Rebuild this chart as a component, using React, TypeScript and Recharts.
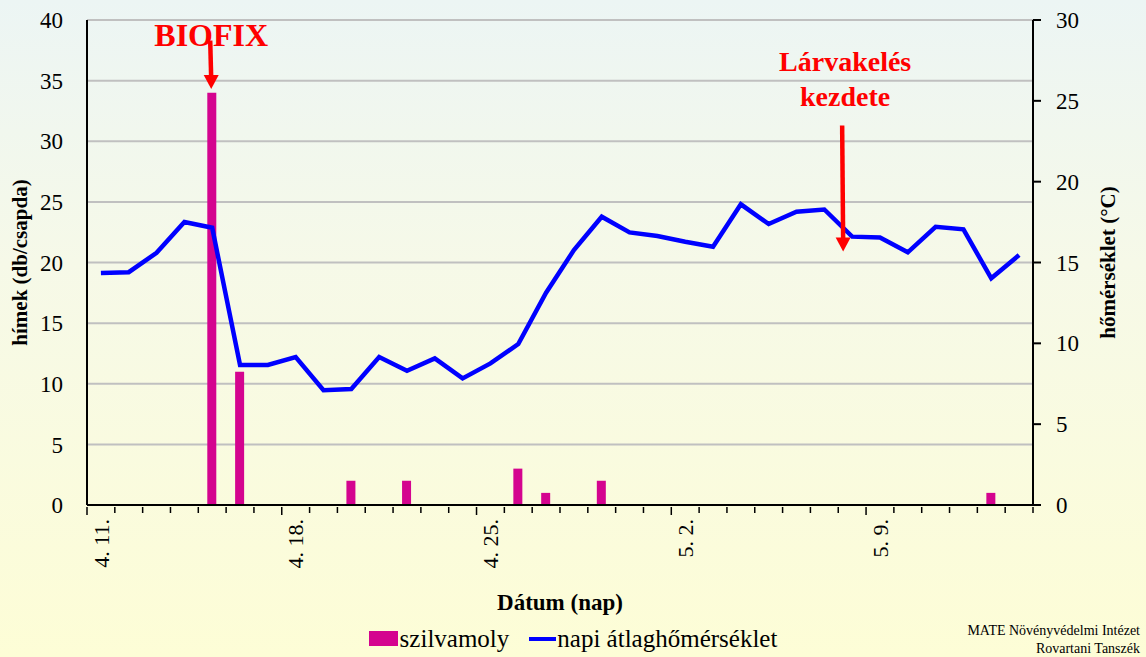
import {
  ComposedChart,
  Bar,
  Line,
  XAxis,
  YAxis,
  CartesianGrid,
  Legend,
  ReferenceLine,
} from 'recharts'

const dates = [
  '4. 11.', '4. 12.', '4. 13.', '4. 14.', '4. 15.', '4. 16.', '4. 17.', '4. 18.', '4. 19.', '4. 20.',
  '4. 21.', '4. 22.', '4. 23.', '4. 24.', '4. 25.', '4. 26.', '4. 27.', '4. 28.', '4. 29.', '4. 30.',
  '5. 1.', '5. 2.', '5. 3.', '5. 4.', '5. 5.', '5. 6.', '5. 7.', '5. 8.', '5. 9.', '5. 10.',
  '5. 11.', '5. 12.', '5. 13.', '5. 14.',
]

const szilvamoly = [
  0, 0, 0, 0, 34, 11, 0, 0, 0, 2,
  0, 2, 0, 0, 0, 3, 1, 0, 2, 0,
  0, 0, 0, 0, 0, 0, 0, 0, 0, 0,
  0, 0, 1, 0,
]

const homerseklet = [
  14.35, 14.4, 15.6, 17.5, 17.15, 8.66, 8.66, 9.15, 7.1, 7.17,
  9.15, 8.3, 9.07, 7.83, 8.76, 9.96, 13.13, 15.77, 17.83, 16.86,
  16.64, 16.28, 15.97, 18.6, 17.38, 18.14, 18.28, 16.6, 16.55, 15.63,
  17.21, 17.05, 14.02, 15.46,
]

const leftTicks = [0, 5, 10, 15, 20, 25, 30, 35, 40]
const rightTicks = [0, 5, 10, 15, 20, 25, 30]

const data = dates.map((d, i) => ({
  datum: d,
  szilvamoly: szilvamoly[i],
  homerseklet: homerseklet[i],
}))

const SERIF = "'Times New Roman', 'Liberation Serif', 'Noto Serif', 'DejaVu Serif', Times, serif"
const PLOT_LEFT = 87
const PLOT_RIGHT = 1033
const BAND = (PLOT_RIGHT - PLOT_LEFT) / dates.length

function DateTick(props: any) {
  const { x, y, payload, index } = props
  const left = x - BAND / 2
  const major = index % 7 === 0
  const last = index === dates.length - 1
  return (
    <g>
      <line x1={left} x2={left} y1={y} y2={y + (major ? 8 : 6)} stroke="#000" strokeWidth={1.5} />
      {last && <line x1={x + BAND / 2} x2={x + BAND / 2} y1={y} y2={y + 6} stroke="#000" strokeWidth={1.5} />}
      {major && (
        <text
          x={x}
          y={y + 12}
          transform={`rotate(-90, ${x}, ${y + 12})`}
          textAnchor="end"
          dy="0.35em"
          fontSize={22}
          style={{ fontFamily: SERIF }}
          fill="#000"
        >
          {payload.value}
        </text>
      )}
    </g>
  )
}

function AxisTitle({ viewBox, value, dx }: any) {
  const cx = viewBox.x + dx
  const cy = viewBox.y + viewBox.height / 2
  return (
    <text
      x={cx}
      y={cy}
      transform={`rotate(-90, ${cx}, ${cy})`}
      textAnchor="middle"
      dominantBaseline="central"
      fontSize={21}
      fontWeight="bold"
      style={{ fontFamily: SERIF }}
      fill="#000"
    >
      {value}
    </text>
  )
}

function Arrow({ x1, y1, x2, y2, dx = 0, lines, gap }: any) {
  const ax1 = x1 + dx
  const ax2 = x2 + dx
  return (
    <g>
      {lines.map((t: any, i: number) => (
        <text
          key={i}
          x={ax1 + t.dx}
          y={y1 + t.dy}
          textAnchor="middle"
          fontSize={t.size}
          fontWeight="bold"
          style={{ fontFamily: SERIF }}
          fill="#ff0000"
        >
          {t.text}
        </text>
      ))}
      <line x1={ax1 - 1} y1={y1} x2={ax2} y2={y2 - gap} stroke="#ff0000" strokeWidth={4.5} />
      <polygon points={`${ax2 - 7.5},${y2 - 14} ${ax2 + 7.5},${y2 - 14} ${ax2},${y2}`} fill="#ff0000" />
    </g>
  )
}

function LegendBox() {
  return (
    <div
      style={{
        height: 37,
        display: 'flex',
        justifyContent: 'center',
        alignItems: 'center',
        fontFamily: SERIF,
        fontSize: 25,
        color: '#000',
      }}
    >
      <span style={{ display: 'inline-block', width: 29, height: 15, background: '#d4048f', marginRight: 2 }} />
      <span style={{ marginRight: 20 }}>szilvamoly</span>
      <span style={{ display: 'inline-block', width: 27, height: 4, background: '#0000ff', marginRight: 1 }} />
      <span>napi átlaghőmérséklet</span>
    </div>
  )
}

export default function App() {
  return (
    <div
      style={{
        position: 'absolute',
        left: 0,
        top: 0,
        width: 1146,
        height: 657,
        background: 'linear-gradient(to bottom, #ecf5f4 0%, #f6f9e8 40%, #fdfdd6 100%)',
        overflow: 'hidden',
        fontFamily: SERIF,
      }}
    >
      <ComposedChart width={1146} height={657} data={data} margin={{ top: 20, right: 0, left: 0, bottom: 0 }}>
        <CartesianGrid yAxisId="left" vertical={false} stroke="#c0c0c0" strokeWidth={2} />
        <XAxis
          dataKey="datum"
          interval={0}
          height={115}
          tickSize={0}
          tickLine={false}
          axisLine={{ stroke: '#000', strokeWidth: 2 }}
          tick={<DateTick />}
          label={{
            value: 'Dátum (nap)',
            position: 'insideBottom',
            offset: 10,
            fontSize: 23,
            fontWeight: 'bold',
            style: { fontFamily: SERIF },
            fill: '#000',
          }}
        />
        <YAxis
          yAxisId="left"
          width={87}
          domain={[0, 40]}
          ticks={leftTicks}
          tickSize={0}
          tickMargin={24}
          tickLine={false}
          axisLine={{ stroke: '#000', strokeWidth: 2 }}
          tick={{ fontSize: 23, style: { fontFamily: SERIF }, fill: '#000' }}
          label={<AxisTitle value="hímek (db/csapda)" dx={20} />}
        />
        <YAxis
          yAxisId="right"
          orientation="right"
          width={113}
          domain={[0, 30]}
          ticks={rightTicks}
          tickSize={8}
          tickMargin={15}
          tickLine={{ stroke: '#000', strokeWidth: 2 }}
          axisLine={{ stroke: '#000', strokeWidth: 2 }}
          tick={{ fontSize: 23, style: { fontFamily: SERIF }, fill: '#000' }}
          label={<AxisTitle value="hőmérséklet (°C)" dx={75} />}
        />
        <Legend verticalAlign="bottom" content={<LegendBox />} wrapperStyle={{ left: 0, width: 1146 }} />
        <Bar
          yAxisId="left"
          dataKey="szilvamoly"
          name="szilvamoly"
          fill="#d4048f"
          barSize={9}
          isAnimationActive={false}
        />
        <Line
          yAxisId="right"
          dataKey="homerseklet"
          name="napi átlaghőmérséklet"
          type="linear"
          stroke="#0000ff"
          strokeWidth={4.5}
          dot={false}
          isAnimationActive={false}
        />
        <ReferenceLine
          yAxisId="left"
          segment={[{ x: '4. 15.', y: 38.3 }, { x: '4. 15.', y: 34.3 }]}
          shape={(p: any) => (
            <Arrow {...p} dx={-1} gap={10} lines={[{ text: 'BIOFIX', dx: 0, dy: 5, size: 32 }]} />
          )}
        />
        <ReferenceLine
          yAxisId="left"
          segment={[{ x: '5. 8.', y: 31.3 }, { x: '5. 8.', y: 20.9 }]}
          shape={(p: any) => (
            <Arrow
              {...p}
              dx={-9}
              gap={10}
              lines={[
                { text: 'Lárvakelés', dx: 2, dy: -54, size: 28 },
                { text: 'kezdete', dx: 2, dy: -19, size: 28 },
              ]}
            />
          )}
        />
      </ComposedChart>
      <div
        style={{
          position: 'absolute',
          right: 6,
          top: 622,
          textAlign: 'right',
          fontSize: 14,
          lineHeight: '18px',
          color: '#000',
        }}
      >
        <div>MATE Növényvédelmi Intézet</div>
        <div>Rovartani Tanszék</div>
      </div>
    </div>
  )
}
